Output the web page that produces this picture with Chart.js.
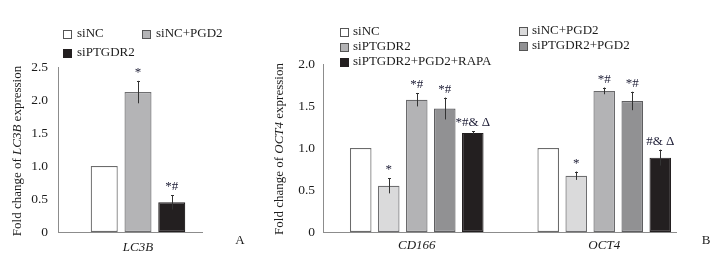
<!DOCTYPE html>
<html><head><meta charset="utf-8">
<script src="https://cdn.jsdelivr.net/npm/chart.js@4"></script>
<style>
html,body{margin:0;padding:0;background:#fff;}
#wrap{position:relative;width:723px;height:253px;overflow:hidden;background:#fff;}
#ca{position:absolute;left:0;top:0;}
#cb{position:absolute;left:250px;top:0;}
</style></head><body>
<div id="wrap">
<canvas id="ca" width="250" height="253"></canvas>
<canvas id="cb" width="473" height="253"></canvas>
</div>
<script>
// ---------- Panel A data ----------
const categoriesA = ['LC3B'];
const seriesA = ['siNC', 'siNC+PGD2', 'siPTGDR2'];
const valuesA_siNC = [1.0];
const valuesA_siNC_PGD2 = [2.12];
const valuesA_siPTGDR2 = [0.45];
const errorsA_siNC = [0];
const errorsA_siNC_PGD2 = [0.17];
const errorsA_siPTGDR2 = [0.11];
const marksA_siNC = [''];
const marksA_siNC_PGD2 = ['*'];
const marksA_siPTGDR2 = ['*#'];
const yTicksA = [0, 0.5, 1.0, 1.5, 2.0, 2.5];
const yTickLabelsA = ['0', '0.5', '1.0', '1.5', '2.0', '2.5'];

// ---------- Panel B data ----------
const categoriesB = ['CD166', 'OCT4'];
const seriesB = ['siNC', 'siNC+PGD2', 'siPTGDR2', 'siPTGDR2+PGD2', 'siPTGDR2+PGD2+RAPA'];
const valuesB_siNC = [1.0, 1.0];
const valuesB_siNC_PGD2 = [0.55, 0.67];
const valuesB_siPTGDR2 = [1.575, 1.68];
const valuesB_siPTGDR2_PGD2 = [1.47, 1.56];
const valuesB_RAPA = [1.18, 0.885];
const errorsB_siNC = [0, 0];
const errorsB_siNC_PGD2 = [0.09, 0.05];
const errorsB_siPTGDR2 = [0.08, 0.04];
const errorsB_siPTGDR2_PGD2 = [0.13, 0.11];
const errorsB_RAPA = [0.02, 0.095];
const marksB_siNC = ['', ''];
const marksB_siNC_PGD2 = ['*', '*'];
const marksB_siPTGDR2 = ['*#', '*#'];
const marksB_siPTGDR2_PGD2 = ['*#', '*#'];
const marksB_RAPA = ['*#& \u0394', '#& \u0394'];
const yTicksB = [0, 0.5, 1.0, 1.5, 2.0];
const yTickLabelsB = ['0', '0.5', '1.0', '1.5', '2.0'];

const SERIF = '"Liberation Serif", "Times New Roman", serif';
const TXT = '#1c1c1c';
const AXIS = '#8c8c8c';

// ---------- plugins ----------
const errPlugin = {
  id: 'errs',
  afterDatasetsDraw(chart, args, o) {
    const ctx = chart.ctx, y = chart.scales.y;
    ctx.save();
    chart.data.datasets.forEach((ds, di) => {
      const meta = chart.getDatasetMeta(di);
      meta.data.forEach((bar, i) => {
        const v = ds.data[i], e = o.errors[di][i];
        const x = Math.round(bar.x) + 0.5;
        const yt = y.getPixelForValue(v + e);
        if (e > 0) {
          const yb = y.getPixelForValue(v - e);
          ctx.strokeStyle = '#333';
          ctx.lineWidth = 1;
          ctx.beginPath();
          ctx.moveTo(x, yt); ctx.lineTo(x, yb);
          ctx.moveTo(x - 1.5, Math.round(yt) + 0.5); ctx.lineTo(x + 1.5, Math.round(yt) + 0.5);
          ctx.stroke();
        }
        const m = o.marks[di][i];
        if (m) {
          ctx.font = '13px ' + SERIF;
          ctx.fillStyle = '#22223a';
          ctx.textAlign = 'center';
          ctx.textBaseline = 'alphabetic';
          ctx.fillText(m, bar.x, yt - 5);
        }
      });
    });
    ctx.restore();
  }
};

const deco = {
  id: 'deco',
  afterDraw(chart, args, o) {
    const ctx = chart.ctx, ca = chart.chartArea;
    ctx.save();
    // x axis line (shorter than the category range, as in the source)
    ctx.strokeStyle = AXIS; ctx.lineWidth = 1;
    ctx.beginPath();
    const yb = Math.round(ca.bottom) + 0.5;
    ctx.moveTo(ca.left, yb); ctx.lineTo(ca.right - o.trim, yb);
    ctx.stroke();
    // y title with italic gene name
    ctx.translate(o.titleX, o.titleY);
    ctx.rotate(-Math.PI / 2);
    const fonts = o.title.map(p => (p.italic ? 'italic ' : '') + '13px ' + SERIF);
    const widths = o.title.map((p, i) => { ctx.font = fonts[i]; return ctx.measureText(p.t).width; });
    let cx = -widths.reduce((a, b) => a + b, 0) / 2;
    ctx.fillStyle = TXT; ctx.textAlign = 'left'; ctx.textBaseline = 'middle';
    o.title.forEach((p, i) => { ctx.font = fonts[i]; ctx.fillText(p.t, cx, 0); cx += widths[i]; });
    ctx.setTransform(1, 0, 0, 1, 0, 0);
    // panel letter
    ctx.font = '13px ' + SERIF; ctx.textAlign = 'center'; ctx.textBaseline = 'middle';
    ctx.fillText(o.letter, o.letterX, o.letterY);
    // legend
    chart.data.datasets.forEach((ds, i) => {
      const p = o.legend[i];
      ctx.fillStyle = ds.backgroundColor;
      ctx.fillRect(p[0], Math.round(p[1]) - 4, 9, 9);
      ctx.strokeStyle = ds.borderColor === '#231f20' ? '#231f20' : '#555';
      ctx.lineWidth = 1;
      ctx.strokeRect(p[0] + 0.5, Math.round(p[1]) - 3.5, 8, 8);
      ctx.fillStyle = TXT; ctx.font = '13px ' + SERIF;
      ctx.textAlign = 'left'; ctx.textBaseline = 'middle';
      ctx.fillText(ds.label, p[0] + o.legendGap, p[1]);
    });
    ctx.restore();
  }
};

function yScale(max, ticks, labels, width, pad) {
  return {
    min: 0, max: max,
    afterBuildTicks: s => { s.ticks = ticks.map(v => ({ value: v })); },
    afterFit: s => { s.width = width; },
    grid: { display: false, drawTicks: false },
    border: { display: true, color: AXIS, width: 1 },
    ticks: {
      padding: pad, color: TXT, font: { family: SERIF, size: 13.5 },
      callback: (v) => labels[ticks.indexOf(v)]
    }
  };
}
function xScale(h, pad) {
  return {
    afterFit: s => { s.height = h; },
    grid: { display: false, drawTicks: false },
    border: { display: false },
    ticks: { padding: pad, color: TXT, font: { family: SERIF, size: 13, style: 'italic' } }
  };
}

// ---------- Chart A ----------
new Chart(document.getElementById('ca'), {
  type: 'bar',
  data: {
    labels: categoriesA,
    datasets: [
      { label: seriesA[0], data: valuesA_siNC, backgroundColor: '#ffffff', borderColor: '#6b6b6b' },
      { label: seriesA[1], data: valuesA_siNC_PGD2, backgroundColor: '#b4b4b6', borderColor: '#6e6e70' },
      { label: seriesA[2], data: valuesA_siPTGDR2, backgroundColor: '#231f20', borderColor: '#231f20' }
    ].map(d => Object.assign(d, { borderWidth: 1.2, borderSkipped: false, categoryPercentage: 0.633, barPercentage: 0.8 }))
  },
  options: {
    responsive: false, animation: false, devicePixelRatio: 1,
    layout: { padding: { top: 67, right: 32, bottom: 0, left: 0 } },
    plugins: {
      legend: { display: false }, tooltip: { enabled: false },
      errs: { errors: [errorsA_siNC, errorsA_siNC_PGD2, errorsA_siPTGDR2], marks: [marksA_siNC, marksA_siNC_PGD2, marksA_siPTGDR2] },
      deco: {
        trim: 15, titleX: 18, titleY: 151,
        title: [{ t: 'Fold change of ' }, { t: 'LC3B', italic: true }, { t: ' expression' }],
        letter: 'A', letterX: 240, letterY: 241,
        legend: [[63, 34], [142, 34], [63, 53]], legendGap: 14
      }
    },
    scales: { x: xScale(21, 8), y: yScale(2.5, yTicksA, yTickLabelsA, 58, 10) }
  },
  plugins: [errPlugin, deco]
});

// ---------- Chart B ----------
new Chart(document.getElementById('cb'), {
  type: 'bar',
  data: {
    labels: categoriesB,
    datasets: [
      { label: seriesB[0], data: valuesB_siNC, backgroundColor: '#ffffff', borderColor: '#6b6b6b' },
      { label: seriesB[1], data: valuesB_siNC_PGD2, backgroundColor: '#dadadb', borderColor: '#6e6e70' },
      { label: seriesB[2], data: valuesB_siPTGDR2, backgroundColor: '#b3b3b5', borderColor: '#6a6a6c' },
      { label: seriesB[3], data: valuesB_siPTGDR2_PGD2, backgroundColor: '#919193', borderColor: '#5e5e60' },
      { label: seriesB[4], data: valuesB_RAPA, backgroundColor: '#231f20', borderColor: '#231f20' }
    ].map(d => Object.assign(d, { borderWidth: 1.2, borderSkipped: false, categoryPercentage: 0.747, barPercentage: 0.77 }))
  },
  options: {
    responsive: false, animation: false, devicePixelRatio: 1,
    layout: { padding: { top: 64, right: 25, bottom: 0, left: 0 } },
    plugins: {
      legend: { display: false }, tooltip: { enabled: false },
      errs: {
        errors: [errorsB_siNC, errorsB_siNC_PGD2, errorsB_siPTGDR2, errorsB_siPTGDR2_PGD2, errorsB_RAPA],
        marks: [marksB_siNC, marksB_siNC_PGD2, marksB_siPTGDR2, marksB_siPTGDR2_PGD2, marksB_RAPA]
      },
      deco: {
        trim: 21, titleX: 30, titleY: 149,
        title: [{ t: 'Fold change of ' }, { t: 'OCT4', italic: true }, { t: ' expression' }],
        letter: 'B', letterX: 456, letterY: 241,
        legend: [[90, 32], [269, 31], [90, 46.5], [269, 45.5], [90, 61.5]], legendGap: 13
      }
    },
    scales: { x: xScale(21, 6), y: yScale(2.0, yTicksB, yTickLabelsB, 73, 8) }
  },
  plugins: [errPlugin, deco]
});
</script>
</body></html>
